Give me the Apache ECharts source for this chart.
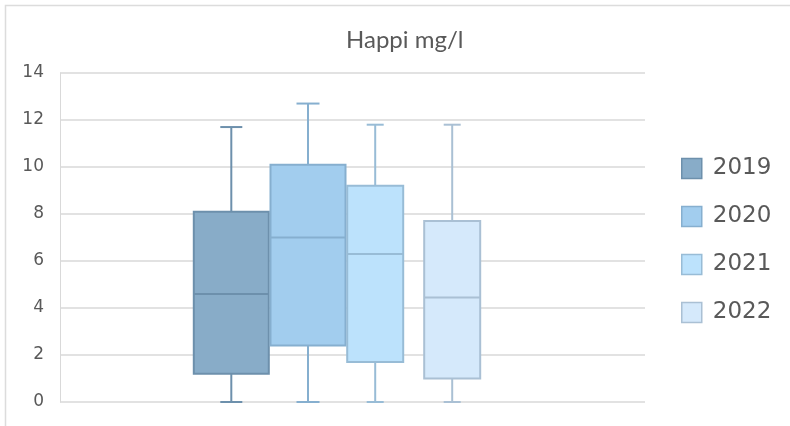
<!DOCTYPE html>
<html>
<head>
<meta charset="utf-8">
<script src="https://cdn.jsdelivr.net/npm/echarts@6/dist/echarts.min.js"></script>
<style>
  html, body { margin: 0; padding: 0; background: #ffffff; }
  #chart { width: 790px; height: 426px; }
</style>
</head>
<body>
<div id="chart"></div>
<script>
// Yearly box-and-whisker statistics for dissolved oxygen (mg/l)
const years = ['2019', '2020', '2021', '2022'];
const minValues = [0, 0, 0, 0];
const q1Values = [1.2, 2.4, 1.7, 1.0];
const medianValues = [4.6, 7.0, 6.3, 4.45];
const q3Values = [8.1, 10.1, 9.2, 7.7];
const maxValues = [11.7, 12.7, 11.8, 11.8];
const yTickLabels = ['0', '2', '4', '6', '8', '10', '12', '14'];

// Box placement along the hidden horizontal axis (axis units = pixels of plot width)
const boxLayout = [
  { center: 171.3, width: 75, cap: 22 },
  { center: 248.0, width: 75, cap: 23 },
  { center: 315.2, width: 56, cap: 17 },
  { center: 392.2, width: 56, cap: 17 }
];
const fillColors = ['#88acc8', '#a2cdee', '#bce2fc', '#d5e9fb'];
const lineColors = ['#6d90ac', '#86afcf', '#98bcd6', '#aac0d4'];

const textGray = '#595959';
const gridGray = '#d9d9d9';

function renderBox(params, api) {
  const i = params.seriesIndex;
  const L = boxLayout[i];
  const cx = api.coord([L.center, 0])[0];
  const halfW = api.size([L.width, 0])[0] / 2;
  const halfCap = api.size([L.cap, 0])[0] / 2;
  const y = k => api.coord([L.center, api.value(k)])[1];
  const yMin = y(0), yQ1 = y(1), yMed = y(2), yQ3 = y(3), yMax = y(4);
  const stroke = lineColors[i];
  const lineStyle = { stroke: stroke, lineWidth: 2, fill: null };
  return {
    type: 'group',
    children: [
      { type: 'line', shape: { x1: cx, y1: yMax, x2: cx, y2: yQ3 }, style: lineStyle },
      { type: 'line', shape: { x1: cx, y1: yQ1, x2: cx, y2: yMin }, style: lineStyle },
      { type: 'line', shape: { x1: cx - halfCap, y1: yMax, x2: cx + halfCap, y2: yMax }, style: lineStyle },
      { type: 'line', shape: { x1: cx - halfCap, y1: yMin, x2: cx + halfCap, y2: yMin }, style: lineStyle },
      {
        type: 'rect',
        shape: { x: cx - halfW, y: yQ3, width: halfW * 2, height: yQ1 - yQ3 },
        style: { fill: fillColors[i], stroke: stroke, lineWidth: 2 }
      },
      { type: 'line', shape: { x1: cx - halfW, y1: yMed, x2: cx + halfW, y2: yMed }, style: lineStyle }
    ]
  };
}

const series = years.map((year, i) => ({
  name: year,
  type: 'custom',
  renderItem: renderBox,
  itemStyle: { color: fillColors[i], borderColor: lineColors[i], borderWidth: 1.5 },
  dimensions: ['min', 'Q1', 'median', 'Q3', 'max'],
  encode: { y: [0, 1, 2, 3, 4] },
  data: [[minValues[i], q1Values[i], medianValues[i], q3Values[i], maxValues[i]]],
  silent: true
}));

const chart = echarts.init(document.getElementById('chart'), null, { renderer: 'canvas' });
chart.setOption({
  backgroundColor: '#ffffff',
  animation: false,
  title: {
    text: 'Happi mg/l',
    left: 341,
    top: 23,
    textStyle: { fontFamily: 'Lato', fontSize: 24, fontWeight: 'normal', color: textGray }
  },
  graphic: [{
    type: 'rect',
    shape: { x: 5.5, y: 5.5, width: 820, height: 440 },
    style: { fill: null, stroke: '#dcdcdc', lineWidth: 1.5 },
    silent: true
  }],
  legend: {
    orient: 'vertical',
    left: 681,
    top: 157,
    itemWidth: 20,
    itemHeight: 20,
    itemGap: 25,
    padding: 0,
    icon: 'rect',
    selectedMode: false,
    textStyle: {
      fontFamily: 'DejaVu Sans',
      fontSize: 23,
      color: textGray,
      lineHeight: 20,
      padding: [0, 0, 0, 6]
    },
    data: years.map((y, i) => ({
      name: y,
      itemStyle: { color: fillColors[i], borderColor: lineColors[i], borderWidth: 1.5 }
    }))
  },
  grid: { left: 60, right: 145, top: 73, bottom: 24 },
  xAxis: {
    type: 'value',
    min: 0,
    max: 585,
    show: false
  },
  yAxis: {
    type: 'value',
    min: 0,
    max: 14,
    interval: 2,
    axisLine: { show: true, lineStyle: { color: gridGray, width: 1 } },
    axisTick: { show: false },
    axisLabel: {
      margin: 16,
      fontFamily: 'DejaVu Sans',
      fontSize: 17,
      color: textGray,
      formatter: v => yTickLabels[Math.round(v / 2)]
    },
    splitLine: { show: true, lineStyle: { color: gridGray, width: 1.5 } }
  },
  series: series
});
</script>
</body>
</html>
